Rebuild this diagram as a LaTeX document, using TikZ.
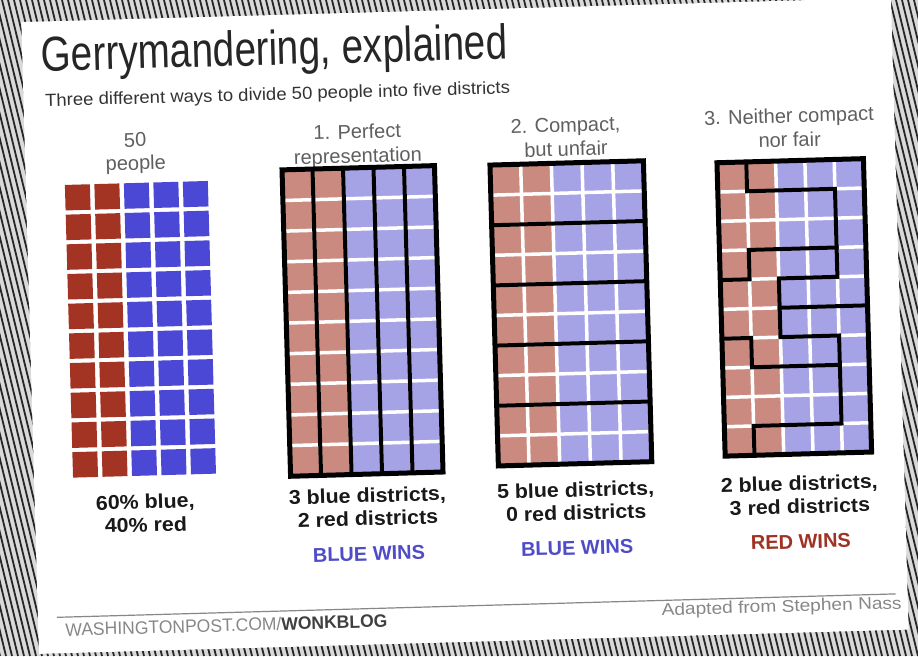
\documentclass[tikz,border=0pt]{standalone}
\usepackage{fontspec}
\setmainfont{Liberation Sans}
\usepackage{graphicx}
\definecolor{dred}{RGB}{163,52,36}
\definecolor{dblue}{RGB}{76,72,214}
\definecolor{lred}{RGB}{203,138,128}
\definecolor{lblue}{RGB}{166,162,230}
\definecolor{hdr}{RGB}{95,95,95}
\definecolor{foot}{RGB}{135,135,135}
\definecolor{winblue}{RGB}{80,76,200}
\definecolor{winred}{RGB}{160,50,35}
\newcommand\xw[1]{\scalebox{1.07}[1]{#1}}
\newcommand\distgrid[5]{%
  \begin{scope}[shift={(#1,#2)}, xscale={(#3-#1)/5}, yscale={(#4-#2)/10}]
    \fill[lred] (0,0) rectangle (2,10);
    \fill[lblue] (2,0) rectangle (5,10);
    \foreach \k in {1,...,4} \draw[wline] (\k,0) -- (\k,10);
    \foreach \k in {1,...,9} \draw[wline] (0,\k) -- (5,\k);
    #5
    \draw[frame] (0,0) rectangle (5,10);
  \end{scope}}
\begin{document}
\begin{tikzpicture}[x=1pt,y=-1pt,
  hdrtext/.style={anchor=base, text=hdr, font=\fontsize{20}{20}\selectfont, inner sep=0},
  restext/.style={anchor=base, text=black!90, font=\fontsize{20}{20}\selectfont\bfseries, inner sep=0},
  wintext/.style={anchor=base, font=\fontsize{20}{20}\selectfont\bfseries, inner sep=0},
  wline/.style={white, line width=3.5pt},
  dline/.style={black, line width=4pt, line cap=rect, line join=miter},
  frame/.style={black, line width=5pt, line join=miter},
]
\useasboundingbox (0,0) rectangle (918,656);
\fill[gray!30] (0,0) rectangle (918,656);
\begin{scope}
  \clip (0,0) rectangle (918,656);
  \foreach \i in {-160,-154,...,918} \draw[black!85, line width=1.8pt] (\i,0) -- ++(160,656);
\end{scope}
\begin{scope}[rotate around={1.6:(459,328)}, transform shape]
  \fill[white] (30,10) rectangle (900,642);
  % title
  \node[anchor=base west, inner sep=0, text=black!85] (title) at (49,60)
    {\resizebox{466pt}{\height}{\fontsize{49}{49}\selectfont Gerrymandering, explained}};
  \node[anchor=base west, inner sep=0, text=black!80] (sub) at (51.5,95)
    {\resizebox{465pt}{\height}{\fontsize{17.5}{17.5}\selectfont Three different ways to divide 50 people into five districts}};
  % headers
  \node[hdrtext] (h0a) at (140.5,138) {50};
  \node[hdrtext] (h0b) at (140.5,161) {people};
  \node[hdrtext] (h1a) at (362.7,136) {1. Perfect};
  \node[hdrtext] (h1b) at (362.7,160) {representation};
  \node[hdrtext] (h2a) at (571,135) {2. Compact,};
  \node[hdrtext] (h2b) at (571,159) {but unfair};
  \node[hdrtext] (h3a) at (794.8,132) {3. Neither compact};
  \node[hdrtext] (h3b) at (794.8,156) {nor fair};
  % grid 0: 50 people
  \foreach \i in {0,1} \foreach \j in {0,...,9}
    \fill[dred] ({69+\i*29.5},{174+\j*29.7}) rectangle ++(25,25.5);
  \foreach \i in {2,3,4} \foreach \j in {0,...,9}
    \fill[dblue] ({69+\i*29.5},{174+\j*29.7}) rectangle ++(25,25.5);
  % grid 1: perfect representation
  \distgrid{286.5}{165}{439}{471.5}{%
    \foreach \k in {1,...,4} \draw[dline] (\k,0) -- (\k,10);}
  % grid 2: compact but unfair
  \distgrid{494.5}{166}{648}{467}{%
    \foreach \k in {2,4,6,8} \draw[dline] (0,\k) -- (5,\k);}
  % grid 3: neither compact nor fair
  \distgrid{721.5}{170}{868}{463.5}{%
    \draw[dline] (1,0) -- (1,1) -- (4,1) -- (4,4) -- (2,4) -- (2,6) -- (4,6) -- (4,9) -- (1,9) -- (1,10);
    \draw[dline] (4,3) -- (1,3) -- (1,4) -- (0,4);
    \draw[dline] (2,5) -- (5,5);
    \draw[dline] (0,6) -- (1,6) -- (1,7) -- (4,7);}
  % results
  \node[restext] (r0a) at (140.5,500) {\xw{60\% blue,}};
  \node[restext] (r0b) at (140.5,523) {\xw{40\% red}};
  \node[restext] (r1a) at (362.7,500) {\xw{3 blue districts,}};
  \node[restext] (r1b) at (362.7,523) {\xw{2 red districts}};
  \node[restext] (r2a) at (571,500) {\xw{5 blue districts,}};
  \node[restext] (r2b) at (571,523) {\xw{0 red districts}};
  \node[restext] (r3a) at (794.8,500) {\xw{2 blue districts,}};
  \node[restext] (r3b) at (794.8,523) {\xw{3 red districts}};
  \node[wintext, text=winblue] (w1) at (362.7,558) {BLUE WINS};
  \node[wintext, text=winblue] (w2) at (571,558) {BLUE WINS};
  \node[wintext, text=winred] (w3) at (794.8,558) {RED WINS};
  % footer
  \draw[foot, line width=1.2pt] (49,606) -- (888,606);
  \node[anchor=base west, inner sep=0] (wp) at (57,625)
    {\resizebox{322pt}{\height}{\fontsize{18}{18}\selectfont\color{foot}WASHINGTONPOST.COM/\textbf{\color{black!75}WONKBLOG}}};
  \node[anchor=base east, inner sep=0, text=foot] (src) at (894,621)
    {\resizebox{240pt}{\height}{\fontsize{17}{17}\selectfont Adapted from Stephen Nass}};
\end{scope}
\end{tikzpicture}
\end{document}
